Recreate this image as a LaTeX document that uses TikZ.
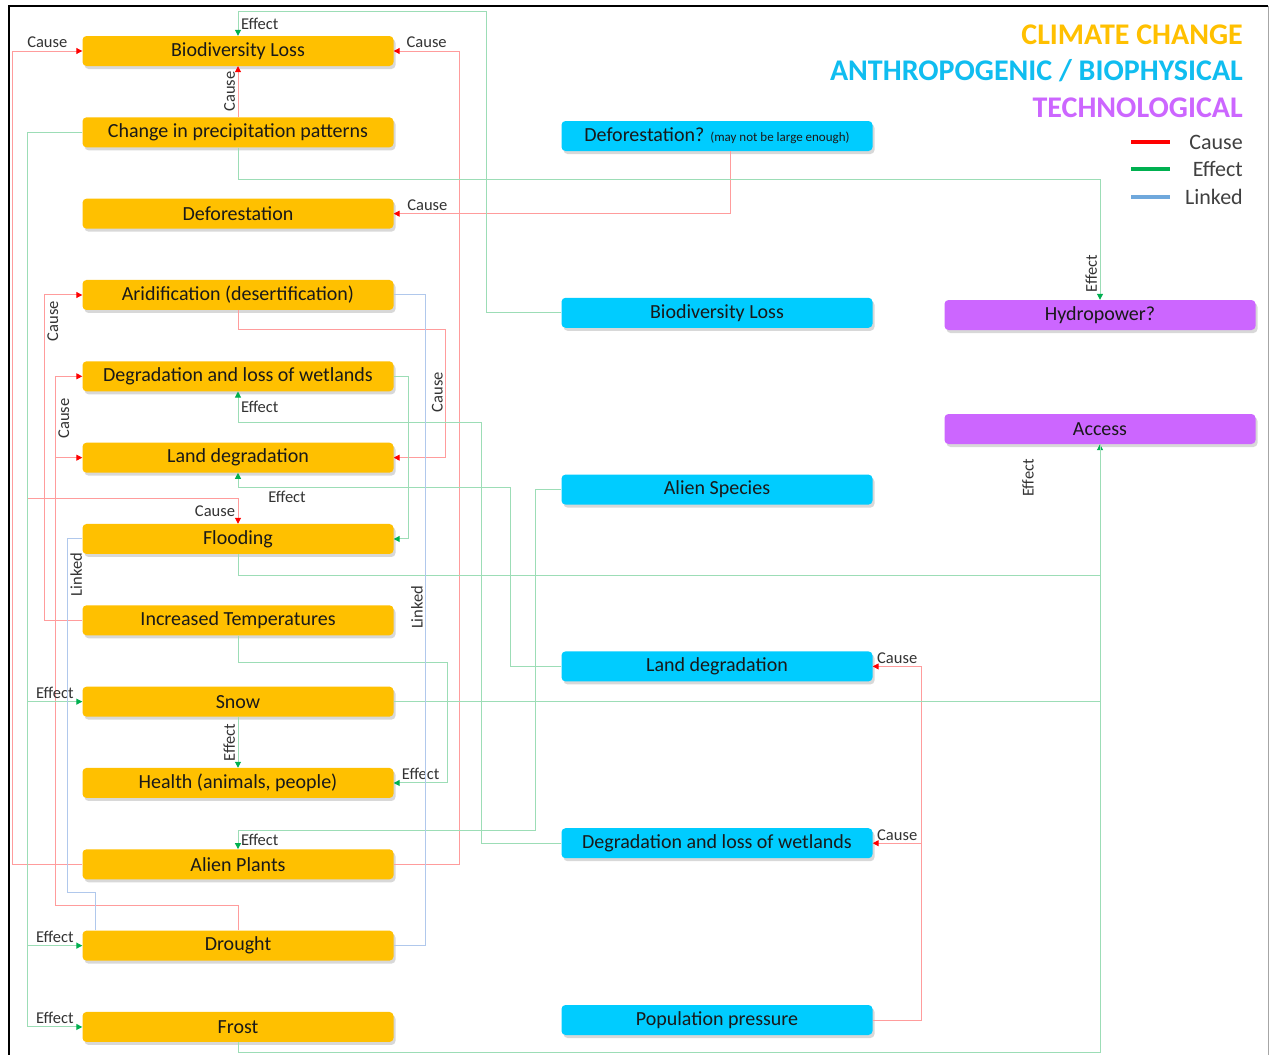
\documentclass[tikz,border=0pt]{standalone}
\usepackage{fontspec}
\setmainfont{Carlito}
\usetikzlibrary{arrows.meta}
\usetikzlibrary{shadows}
\usetikzlibrary{positioning}

\definecolor{ccorange}{HTML}{FFC000}
\definecolor{abblue}{HTML}{00CCFF}
\definecolor{abtext}{HTML}{10BDF0}
\definecolor{techpurple}{HTML}{CC66FF}
\definecolor{causered}{HTML}{FF9C9C}
\definecolor{effectgreen}{HTML}{9CDDB6}
\definecolor{linkblue}{HTML}{B0C8EC}
\definecolor{legendblue}{HTML}{6FA8DC}
\definecolor{tipred}{HTML}{FF0000}
\definecolor{tipgreen}{HTML}{00B050}

\begin{document}
\begin{tikzpicture}[x=1pt,y=1pt,node distance=81.33pt,
            base box/.style={rounded corners=4pt,minimum width=311pt,minimum height=30pt,inner sep=0pt,
                text=black!90,font=\fontsize{20}{20}\selectfont,
                drop shadow={shadow xshift=2pt,shadow yshift=-3pt,opacity=0.3}},
            cc node/.style={base box,fill=ccorange},
            ab node/.style={base box,fill=abblue},
            tech node/.style={base box,fill=techpurple},
            cause line/.style={draw=causered,line width=1pt,-{Triangle[length=6pt,width=6pt,color=tipred]}},
            effect line/.style={draw=effectgreen,line width=1pt,-{Triangle[length=6pt,width=6pt,color=tipgreen]}},
            link line/.style={draw=linkblue,line width=1pt},
            lab/.style={font=\fontsize{16.5}{16.5}\selectfont,text=black!80,inner sep=2.5pt},
            title/.style={anchor=east,inner sep=0pt,font=\fontsize{30}{30}\selectfont\bfseries},
            legend/.style={anchor=east,inner sep=0pt,text=black!75,font=\fontsize{22}{22}\selectfont}
            ]

            \useasboundingbox (0,0) rectangle (1270,-1055);
            \fill[white] (0,0) rectangle (1270,-1055);
            \draw[line width=2pt] (9,-1055) -- (9,-6) -- (1268,-6);
            \draw[black!35,line width=0.8pt] (1268,-6) -- (1268,-1055);

            % climate change column
            \node[cc node](bio) at (238,-51) {Biodiversity Loss};
            \node[cc node](precip)[below of=bio]{Change in precipitation patterns};
            \node[cc node](defor)[below of=precip]{Deforestation};
            \node[cc node](arid)[below of=defor]{Aridification (desertification)};
            \node[cc node](wet)[below of=arid]{Degradation and loss of wetlands};
            \node[cc node](landd)[below of=wet]{Land degradation};
            \node[cc node](flood)[below of=landd]{Flooding};
            \node[cc node](itemp)[below of=flood]{Increased Temperatures};
            \node[cc node](snow)[below of=itemp]{Snow};
            \node[cc node](health)[below of=snow]{Health (animals, people)};
            \node[cc node](aplants)[below of=health]{Alien Plants};
            \node[cc node](drought)[below of=aplants]{Drought};
            \node[cc node](frost)[below of=drought]{Frost};

            % anthropogenic / biophysical column
            \node[ab node](bdefor) at (717,-136) {Deforestation? {\fontsize{13}{13}\selectfont(may not be large enough)}};
            \node[ab node](bbio)[node distance=176.8pt,below of=bdefor]{Biodiversity Loss};
            \node[ab node](alien)[node distance=176.8pt,below of=bbio]{Alien Species};
            \node[ab node](bland)[node distance=176.8pt,below of=alien]{Land degradation};
            \node[ab node](bwet)[node distance=176.8pt,below of=bland]{Degradation and loss of wetlands};
            \node[ab node](pop)[node distance=176.8pt,below of=bwet]{Population pressure};

            % technological
            \node[tech node](hydro) at (1100,-315) {Hydropower?};
            \node[tech node](access)[node distance=114pt,below of=hydro]{Access};

            % titles and legend
            \node[title,text=ccorange](t1) at (1243,-35) {CLIMATE CHANGE};
            \node[title,text=abtext](t2) at (1243,-71) {ANTHROPOGENIC / BIOPHYSICAL};
            \node[title,text=techpurple](t3) at (1243,-108) {TECHNOLOGICAL};
            \node[legend](lg1) at (1243,-142) {Cause};
            \node[legend](lg2) at (1243,-169) {Effect};
            \node[legend](lg3) at (1243,-197) {Linked};
            \draw[tipred,line width=4.5pt] (1131,-142) -- (1170,-142);
            \draw[tipgreen,line width=4.5pt] (1131,-169) -- (1170,-169);
            \draw[legendblue,line width=4.5pt] (1131,-197) -- (1170,-197);

            % causes
            \draw[cause line] (aplants.west) -- ++(-70,0) |- node[pos=0.75,above,lab]{Cause} (bio.west);
            \draw[cause line] (aplants.east) -- ++(66,0) |- node[pos=0.75,above,lab]{Cause} (bio.east);
            \draw[cause line] (precip.north) -- node[midway,lab,rotate=90,anchor=south]{Cause} (bio.south);
            \draw[cause line] ([xshift=13pt]bdefor.south) |- node[pos=0.95,above,lab]{Cause} (defor.east);
            \draw[cause line] (arid.south) -- ++(0,-19) -| node[pos=0.745,lab,rotate=90,anchor=south]{Cause} ([xshift=52pt]landd.east) -- (landd.east);
            \draw[cause line] (itemp.west) -- ++(-38,0) |- node[pos=0.46,lab,rotate=90,anchor=north]{Cause} (arid.west);
            \draw[cause line] (drought.north) -- ++(0,25) -| node[pos=0.96,lab,rotate=90,anchor=north]{Cause} ([xshift=-27pt]wet.west) -- (wet.west);
            \draw[cause line] ([xshift=-27pt]landd.west) -- (landd.west);
            \draw[cause line] (precip.west) -- ++(-55,0) |- ([yshift=25pt]flood.north) -- node[midway,left,lab]{Cause} (flood.north);
            \draw[cause line] (pop.east) -- ++(49,0) coordinate (pp) |- node[pos=0.75,above,lab]{Cause} (bland.east);
            \draw[cause line] (pp |- bwet.east) -- node[midway,above,lab]{Cause} (bwet.east);

            % effects
            \draw[effect line] (precip.west) -- ++(-55,0) coordinate (pg) |- node[pos=0.75,above,lab]{Effect} (frost.west);
            \draw[effect line] (pg |- snow.west) -- node[midway,above,lab]{Effect} (snow.west);
            \draw[effect line] (pg |- drought.west) -- node[midway,above,lab]{Effect} (drought.west);
            \draw[effect line] (bbio.west) -- ++(-75,0) |- ([yshift=24pt]bio.north) -- node[midway,right,lab]{Effect} (bio.north);
            \draw[effect line] (precip.south) -- ++(0,-32) -| node[pos=0.89,lab,rotate=90,anchor=south]{Effect} (hydro.north);
            \draw[effect line] (wet.east) -- ++(15,0) |- (flood.east);
            \draw[effect line] (bwet.west) -- ++(-80,0) |- ([yshift=-31pt]wet.south) -- node[midway,right,lab]{Effect} (wet.south);
            \draw[effect line] (bland.west) -- ++(-51,0) |- node[pos=0.91,below,lab]{Effect} ([yshift=-15pt]landd.south) -- (landd.south);
            \draw[effect line] (alien.west) -- ++(-26,0) |- ([yshift=19pt]aplants.north) -- node[midway,right,lab]{Effect} (aplants.north);
            \draw[effect line] (itemp.south) -- ++(0,-27) -| ([xshift=54pt]health.east) -- node[midway,above,lab]{Effect} (health.east);
            \draw[effect line] (snow.south) -- node[midway,lab,rotate=90,anchor=south]{Effect} (health.north);
            \draw[effect line] (flood.south) -- ++(0,-21) -| (access.south);
            \draw[effect line,-] (snow.east) -- (snow.east -| access.south);
            \draw[effect line,-] (frost.south) -- ++(0,-10) -| (access.south);
            \node[lab,rotate=90](acclab) at (1028,-478) {Effect};

            % linked
            \draw[link line] (arid.east) -- ++(32,0) |- node[pos=0.24,lab,rotate=90,anchor=south]{Linked} (drought.east);
            \draw[link line] (flood.west) -- ++(-15,0) -- node[pos=0.1,lab,rotate=90,anchor=north]{Linked} ++(0,-354) -| ([xshift=13pt]drought.north west);

        \end{tikzpicture}
\end{document}
